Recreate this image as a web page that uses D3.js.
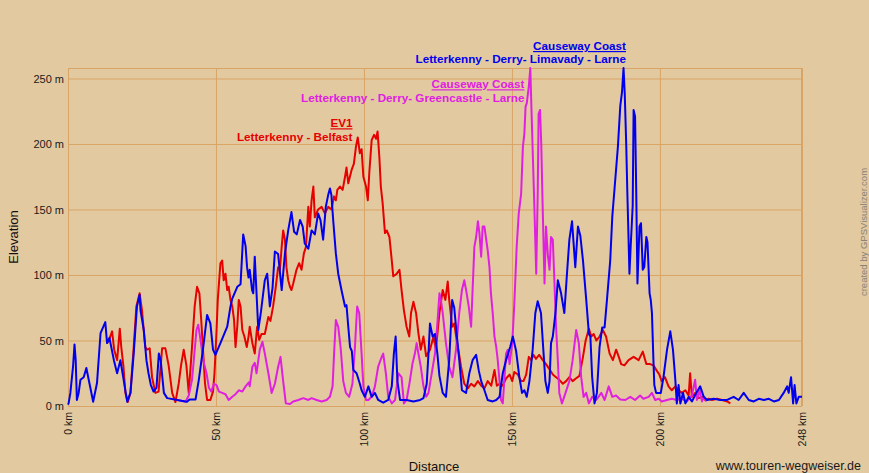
<!DOCTYPE html>
<html>
<head>
<meta charset="utf-8">
<script src="https://cdn.jsdelivr.net/npm/d3@7"></script>
<style>
  html, body { margin: 0; padding: 0; background: #e3c9a0; }
  svg { display: block; }
  text { font-family: "Liberation Sans", Arial, sans-serif; }
</style>
</head>
<body>
<svg id="chart" width="869" height="473"></svg>
<script>
// ---- data (distance km, elevation m) ----
const blueProfile = [[0,1],[0.2,2],[0.8,10],[1.7,30],[2.2,47],[2.6,35],[3,4.6],[3.6,10],[4.2,20],[5.3,22],[6.2,29],[7,20],[8.5,3.3],[9.8,17.5],[11,55.7],[12.6,64],[13.2,48],[14,52],[15.5,35],[16.6,25],[17.7,35],[18.8,20],[20,3.3],[21.1,10],[22.2,40],[23.3,76],[24.2,85],[24.5,73],[25.6,58],[26.5,35],[27.2,25],[28,16],[28.9,11],[29.9,14],[30.7,40],[31.3,35],[32.4,10],[33.5,6],[36.9,4.6],[40.2,3.3],[41.1,5],[43.1,5],[44.2,20],[45.7,45],[47,69.5],[48.1,63],[49,43],[49.8,39],[51.5,48],[53.8,60.5],[54.9,76],[55.5,82],[57.2,91],[58.3,93],[59.2,131],[60,122],[60.5,106],[61,98],[61.4,104],[62.2,88.5],[62.6,86],[63.1,114],[64.3,58],[65.2,72],[66.5,96],[67.3,101],[68.2,76],[69.1,90],[69.9,118],[71,116],[72.2,88.5],[73.3,116.5],[74.4,134],[75.5,148],[76.4,133],[77.3,131],[78.4,142],[79.3,137],[80,124],[81.2,120],[82.3,134],[83.4,131],[84.5,147],[85.3,142],[86.2,127],[87.1,152],[87.9,161],[88.5,166],[89,161],[89.6,142],[90.5,116.5],[91.3,101],[92.4,88.5],[93.6,76],[94.1,77],[94.7,60.5],[95.3,45],[95.9,42],[96.4,27.5],[97.5,25],[98.6,17],[99.2,12],[100.3,7],[101.5,15],[102.6,7],[103.7,10],[104.8,4.6],[106.5,2.5],[108.2,4.6],[109.4,15],[110.1,40],[110.7,53],[111.3,19],[112.2,4.6],[114.4,4.6],[116.7,3.5],[119,4.6],[120.1,6],[121.2,17],[121.8,40],[122.3,63],[123.2,53],[124,55],[124.8,40],[125.5,23],[126.6,10],[127.7,7],[128.8,35],[129.8,81],[130.5,75],[131.3,55.5],[132.2,35],[133.1,12],[134.5,10],[135.6,25],[136.7,35],[137.9,39],[138.8,27],[139.6,19],[140.7,12],[141.8,4.6],[143.5,3.5],[144.7,4.6],[145.8,7],[146.9,25],[148,35],[149.4,45],[150.3,53],[151.4,42],[152.5,22],[153.4,10],[154.2,12],[155,7],[155.9,19],[157,43],[157.9,71],[158.7,80],[159.8,71],[160.6,43],[161.3,19],[162.1,10],[162.7,19],[163.2,48],[163.8,53],[164.7,71],[165.5,96],[166.6,86],[167.7,71],[168.5,98],[169.4,127],[170.3,141],[170.9,122],[171.4,106],[172.3,137],[173.1,130],[174,111],[175.1,81],[176,55],[176.5,53],[177.1,22],[177.9,2],[178.7,10],[179.6,45],[180.5,60],[181.3,60],[182.1,81],[183.2,111],[183.9,144.5],[184.7,167],[185.8,198],[186.6,229],[187.2,240],[187.7,258],[188.1,239],[188.6,200.5],[189,162],[189.7,101],[190.1,121],[190.8,153],[191.1,226],[191.6,221],[192,162],[192.4,93.6],[193.1,137],[193.6,139.5],[194.2,104],[194.7,106],[195.4,129],[195.8,125],[196.5,86],[196.9,81],[197.3,71],[197.8,35],[198.1,16],[198.7,10],[199.6,10],[200.3,10],[201.2,22],[202.4,43],[203.5,57],[204.4,43],[205.2,20],[205.7,2],[206.3,16],[206.9,2],[207.8,10],[208.6,2],[209.7,7],[210.8,3.5],[212.3,10],[213.6,15],[214.8,7],[215.9,4.6],[218.2,5.5],[220.4,4.6],[222.7,4.6],[224.9,7],[226.6,4.6],[228.3,10],[230,4.6],[231.7,3.5],[233.4,5.5],[235.1,4.6],[236.8,5.5],[238.5,3.5],[240.2,4.6],[241.8,10],[243,15],[243.5,10],[244.3,22],[245,2],[245.5,16],[246.1,2],[246.9,7],[248,7]];

const redProfile = [[13.2,48],[13.8,50],[14.9,57],[15.6,43],[16.6,35],[17.5,59],[18,45],[18.7,31],[19.4,10],[20.2,3],[21.1,10],[22.2,45],[23.1,76],[24.2,86],[25,73],[26.1,45],[26.7,43],[27.6,44],[28.4,22],[29.5,10],[30.6,11],[31.8,44],[32.9,44],[34,31],[35.2,10],[36.3,3],[37.4,17],[38.2,31],[39.1,43],[40,31],[40.8,10],[41.9,45],[42.8,76],[43.6,91],[44.4,86],[45,66],[45.7,40],[46.3,17],[47,4.6],[48.1,4.6],[49,11],[49.5,25],[50.2,58],[50.6,81],[51.5,109],[52.1,111],[52.6,96],[53.2,101],[53.8,88.5],[54.3,91],[54.9,81],[55.5,76],[56.1,66],[56.6,45],[57.2,61],[57.7,81],[58.3,76],[58.9,58],[59.6,53],[60.4,45],[61,53],[61.4,60.5],[62.3,48],[63.1,40],[63.9,60.5],[64.6,50.5],[65.4,55],[66.5,55],[67.7,68],[68.4,65],[69.3,76],[70.2,91],[71,106],[71.6,104],[72.2,121.5],[72.7,134],[73.3,127],[73.8,106],[74.4,96],[75,91],[75.5,88.5],[76.1,93.5],[77.2,104],[78.1,109],[78.9,104],[79.7,116.5],[80.4,121.5],[81.2,152],[81.7,137],[82.3,157],[82.9,167.5],[83.4,144],[84.5,150],[85.7,152],[86.8,147],[87.9,152],[89,150],[89.9,160],[90.5,157],[91,165],[91.9,167.5],[92.8,165],[93.6,175],[94.1,182],[94.7,170],[95.8,180],[96.6,185],[97.3,198],[97.9,205],[98.6,193],[99.2,196],[99.8,175],[100.7,167.5],[101.3,157],[101.8,178],[102.6,203],[103.4,207],[104.1,204],[104.6,209.5],[105.2,190],[105.7,167.5],[106.3,155],[107.1,132],[107.7,134],[108.6,129],[109.4,111],[109.9,99],[111.1,101],[112,104],[112.7,88.5],[113.5,73],[114.4,60.5],[115.3,53],[115.9,71],[116.7,79.5],[117.6,71],[118.4,55.5],[119.2,43],[120.1,53],[121,38],[122.3,43],[123.5,53],[124.3,43],[125.5,71],[126.6,88.5],[127.5,81],[128.3,95],[128.8,81],[129.8,60.5],[130.5,63],[131.3,50.5],[132.1,40],[132.8,30],[133.9,17],[135.1,13.5],[136.2,17],[137.3,15],[138.5,19],[139.6,15.5],[140.7,13.5],[141.8,19],[143,15.5],[144.1,27.5],[144.9,15.5],[145.8,17],[146.9,15.5],[148,21],[149.2,24],[150.1,19],[150.8,26],[152,24],[153.1,19],[153.9,19],[154.8,24],[155.7,37.5],[156.5,35],[157.3,39],[158.1,36],[159.2,39],[160.4,35],[161.5,32],[162.7,28],[163.8,24],[164.9,22],[166,20],[167.2,17],[168.3,19],[169.4,22],[170.5,19],[171.6,21],[172.8,23],[174,37.5],[174.9,50],[176,59],[176.8,53],[177.6,55],[178.5,50],[179.6,53],[180.7,58],[181.8,53],[183,40],[184.1,35],[185.2,43],[186.1,37.5],[186.9,32],[188,31],[189.4,35],[191.1,37.5],[192.8,35],[194.2,41.5],[195.4,32],[196.7,32],[197.8,31],[198.9,27],[199.8,24],[200.6,19],[201.7,22],[202.9,15],[204,12],[205.2,15],[206.3,12],[207.4,10],[208.6,12],[209.7,8],[210.2,25],[210.8,7],[211.9,10],[213.1,6],[214.2,7],[215.3,4.6],[216.5,5.5],[217.6,4.6],[219.3,5.5],[221,4.6],[222.7,3.5],[223.8,2]];

const magentaProfile = [[36.9,4.6],[39.7,3.3],[40.8,8],[41.9,20],[42.7,40],[43.4,58],[44,62],[44.8,50],[45.7,35],[46.8,25],[47.6,14],[48.4,11],[49.3,17],[50.2,16],[51,11],[52.1,10],[53.2,9],[54.3,4.6],[55.5,7],[56.6,9],[57.7,12],[58.9,11],[60,15],[61.1,18],[61.4,15],[62.3,30],[63.1,33],[63.7,25],[64.8,43],[65.7,49],[66.5,40],[67.7,25],[68.8,10],[69.9,17],[71,30],[71.8,37.5],[72.7,19],[73.6,2],[75,1.5],[76.1,3.5],[77.8,4.6],[79.5,6],[81.2,4.6],[82.3,6],[84,4.6],[85.7,3.5],[87.4,4.6],[88.5,7],[89.4,15],[89.9,40],[90.5,65.6],[91.3,60.5],[92.1,45],[93,19],[93.9,10],[95,7],[96.1,17],[96.9,43],[97.7,76],[98.4,71],[99.2,40],[99.8,15],[100.7,4.6],[101.5,4.6],[102.6,7],[103.7,15],[104.8,30],[106,37.5],[106.5,40],[107.4,25],[108.2,7],[109.4,2],[110.5,4.6],[111.6,25],[112.7,22],[113.5,2],[114.4,4.6],[115.5,19],[116.4,32.5],[117.2,40],[117.8,48],[118.4,40],[119.2,30],[120.1,15],[121,7],[121.8,10],[122.9,25],[124,40],[124.8,63],[125.5,86],[126,81],[126.6,71],[127.7,48],[128.8,30],[129.9,22],[131.1,43],[132.2,71],[133.1,88.5],[133.9,96],[134.7,86],[135.4,76],[136.2,60.5],[136.7,88.5],[137.3,121.5],[137.9,129],[138.5,141],[139,132],[139.6,114],[140.1,137],[140.7,137],[141.3,127],[141.8,119],[142.4,106],[142.9,86],[143.5,71],[144.1,53],[144.7,45],[145.2,35],[145.8,19],[146.3,4.6],[146.9,2],[147.4,19],[148,40],[148.6,43],[149.2,32],[150.1,48],[150.8,78],[151.6,121.5],[152.3,147],[153.1,162],[153.7,198],[154.2,208],[154.6,228.5],[155,231],[155.7,244],[156.2,258],[156.6,226],[157.1,188],[157.6,150],[158.2,101],[158.7,162],[159,223],[159.5,226],[159.9,200],[160.4,150],[161,93.6],[161.5,137],[162.1,116],[162.7,104],[163.2,129],[163.8,127],[164.3,98],[164.9,60.5],[165.5,35],[166,10],[166.9,2],[168.1,10],[169.4,19],[170.5,35],[171.7,58],[172.6,48],[173.4,22],[174.2,7],[175.1,10],[176,2],[177.1,7],[178.5,4.6],[180.2,10],[181.3,4.6],[182.7,15],[183.9,7],[185.2,8],[186.6,5],[188.3,4.6],[190,7],[191.6,4.6],[193.3,8],[194.4,5.5],[196.2,7],[197.3,10],[198.4,4.6],[199.6,5.5],[200.6,3.5],[202.4,4.6],[204,5.5],[205.7,4.6],[207.4,5.5],[209.1,3.5],[210.8,8],[211.9,20],[212.5,4.6],[213.4,12],[214.2,3.5],[214.8,7],[215.7,3.5]];

const xTicks = [0, 50, 100, 150, 200, 248];
const xTickLabels = ["0 km", "50 km", "100 km", "150 km", "200 km", "248 km"];
const yTicks = [0, 50, 100, 150, 200, 250];
const yTickLabels = ["0 m", "50 m", "100 m", "150 m", "200 m", "250 m"];

const seriesNames = ["EV1", "Causeway Coast", "Causeway Coast"];
const seriesSubtitles = ["Letterkenny - Belfast", "Letterkenny - Derry- Greencastle - Larne", "Letterkenny - Derry- Limavady - Larne"];

// ---- layout ----
const W = 869, H = 473;
const L = 68, R = 802, T = 68, B = 406;
const gridColor = "#d9a566";
const colors = ["#e60000", "#e020e0", "#0000ee"];
const legendPos = [[352.5, 127.3, 140.7], [524.5, 88.3, 102.3], [626, 50, 62.8]];

const svg = d3.select("#chart");
svg.append("rect").attr("width", W).attr("height", H).attr("fill", "#e3c9a0");

const x = d3.scaleLinear().domain([0, 248]).range([L, R]);
const y = d3.scaleLinear().domain([0, 258]).range([B, T]);

// Y axis with grid
const gy = svg.append("g").attr("transform", `translate(${L},0)`)
  .call(d3.axisLeft(y).tickValues(yTicks).tickSize(-(R - L)).tickPadding(4)
    .tickFormat((d, i) => yTickLabels[i]));
gy.select(".domain").remove();
gy.selectAll(".tick line").attr("stroke", gridColor).attr("stroke-width", 1);
gy.selectAll(".tick text").attr("fill", "#1a1a1a").attr("font-size", 11)
  .attr("font-family", "'Liberation Sans', Arial, sans-serif");

// X axis with grid
const gx = svg.append("g").attr("transform", `translate(0,${B})`)
  .call(d3.axisBottom(x).tickValues(xTicks).tickSize(-(B - T))
    .tickFormat((d, i) => xTickLabels[i]));
gx.select(".domain").remove();
gx.selectAll(".tick line").attr("stroke", gridColor).attr("stroke-width", 1);
gx.selectAll(".tick text")
  .attr("fill", "#1a1a1a").attr("font-size", 10.5)
  .attr("font-family", "'Liberation Sans', Arial, sans-serif")
  .attr("transform", "rotate(-90)")
  .attr("x", -6).attr("y", 0).attr("dy", "0.35em")
  .style("text-anchor", "end");

// frame
svg.append("rect").attr("x", L + 0.5).attr("y", T + 0.5)
  .attr("width", R - L - 1).attr("height", B - T)
  .attr("fill", "none").attr("stroke", gridColor).attr("stroke-width", 1);

// lines
const line = d3.line().x(d => x(d[0])).y(d => y(d[1]));
[redProfile, magentaProfile, blueProfile].forEach((data, i) => {
  svg.append("path").datum(data)
    .attr("d", line)
    .attr("fill", "none")
    .attr("stroke", colors[i])
    .attr("stroke-width", 2)
    .attr("stroke-linejoin", "round");
});

// legend labels
seriesNames.forEach((name, i) => {
  const [lx, y1, y2] = legendPos[i];
  svg.append("text").attr("x", lx).attr("y", y1)
    .attr("text-anchor", "end").attr("font-size", 11.7).attr("font-weight", "bold")
    .attr("fill", colors[i]).style("text-decoration", "underline")
    .text(name);
  svg.append("text").attr("x", lx).attr("y", y2)
    .attr("text-anchor", "end").attr("font-size", 11.7).attr("font-weight", "bold")
    .attr("fill", colors[i])
    .text(seriesSubtitles[i]);
});

// axis titles
svg.append("text").attr("transform", "translate(18,237) rotate(-90)")
  .attr("text-anchor", "middle").attr("font-size", 13).attr("fill", "#111")
  .text("Elevation");
svg.append("text").attr("x", 434).attr("y", 471)
  .attr("text-anchor", "middle").attr("font-size", 13).attr("fill", "#111")
  .text("Distance");
svg.append("text").attr("x", 861).attr("y", 470)
  .attr("text-anchor", "end").attr("font-size", 12.5).attr("fill", "#1a1a1a")
  .text("www.touren-wegweiser.de");
svg.append("text").attr("transform", "translate(867,232) rotate(-90)")
  .attr("text-anchor", "middle").attr("font-size", 9.5).attr("fill", "#8a8378")
  .text("created by GPSVisualizer.com");
</script>
</body>
</html>
